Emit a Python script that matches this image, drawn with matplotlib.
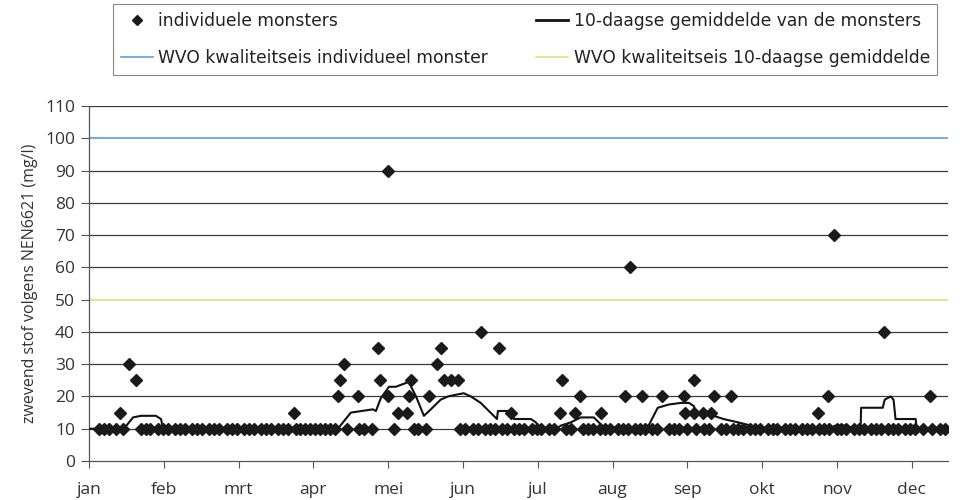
import matplotlib
matplotlib.use("Agg")
import matplotlib.pyplot as plt
from matplotlib.lines import Line2D

# ---- data ----
months = ["jan", "feb", "mrt", "apr", "mei", "jun", "jul", "aug", "sep", "okt", "nov", "dec"]
month_len = 30.42  # equal category spacing (days per month unit)

# samples at the base level (10 mg/l), day of year
base_days = [4, 6, 8, 11, 14, 21, 23, 25, 28, 30,
             32, 35, 37, 39, 42, 44, 46, 49, 51, 53, 56, 58,
             60, 63, 65, 67, 70, 72, 74, 77, 79, 81, 84, 86, 88,
             90, 92, 94, 96, 98, 100, 105, 110, 112, 115,
             124, 132, 134, 137,
             151, 153, 156, 158, 161, 163, 165, 168, 170, 173, 175, 177,
             180, 182, 184, 187, 189, 194, 196, 201, 203, 205, 208, 210,
             212, 215, 217, 219, 222, 224, 226, 229, 231, 236, 238, 240,
             243, 247, 250, 252, 257, 259, 262, 264, 266, 269, 271,
             273, 276, 278, 280, 283, 285, 287, 290, 292, 294, 297, 299,
             301, 304, 306, 308, 311, 313, 315, 318, 320, 322, 325, 327, 329,
             332, 334, 336, 339, 343, 346, 348]
base_value = 10

# samples above base level
high_days = [12.6, 16.3, 19.1, 83.3, 101.2, 102.0, 103.7, 109.3, 117.5, 118.3,
             121.5, 121.8, 125.6, 129.3, 130.1, 130.9, 138.2, 141.5, 143.1, 144.3,
             147.2, 150.0, 159.3, 166.7, 171.5, 191.5, 192.3, 197.6, 199.6, 208.1,
             217.9, 219.9, 224.8, 232.9, 241.9, 242.3, 245.9, 245.9, 249.6, 252.8,
             254.1, 261.0, 296.3, 300.4, 302.8, 323.2, 341.9]
high_vals = [15, 30, 25, 15, 20, 25, 30, 20, 35, 25,
             90, 20, 15, 15, 20, 25, 20, 30, 35, 25,
             25, 25, 40, 35, 15, 15, 25, 15, 20, 15,
             20, 60, 20, 20, 20, 15, 25, 15, 15, 15,
             20, 20, 15, 20, 70, 40, 20]

# 10-day mean
mean_days = [0, 14.2, 17.9, 21.1, 27.2, 29.3, 30.1, 101.2, 106.5, 115.4, 116.7, 118.7,
             122, 124.8, 130, 133, 136.2, 139, 143, 146, 149, 152.4, 155.3, 159.3,
             164.6, 165.9, 166.3, 172.4, 172.8, 179.7, 181.7, 183, 190, 192, 196, 200,
             205.3, 207.3, 209.3, 223.2, 227.6, 231.3, 235.8, 240.7, 244, 246, 246.7,
             254, 258.1, 263.8, 269.1, 273, 300.4, 303.7, 308.5, 310.6, 313.8, 314,
             322.8, 323.6, 326, 327.2, 328, 336.2, 336.6, 340]
mean_vals = [10, 10, 13.5, 14, 14, 13, 10, 10, 15, 16, 15.5, 19.5,
             23, 23, 24.5, 20, 14, 16, 19, 20, 20.5, 21, 20, 18,
             14, 13, 15.5, 15.5, 13, 13, 12, 10.5, 10, 11, 12, 13.5,
             13.5, 12, 10.5, 10.5, 11, 16.5, 17.5, 18, 18, 17, 15,
             14, 13, 12, 11, 10, 10, 11, 11, 10, 10, 16.5,
             16.5, 19, 20, 19, 13, 13, 10, 10]

limit_individual = 100
limit_mean = 50

# ---- plot ----
fig = plt.figure(figsize=(9.6, 5.0), dpi=100)
ax = fig.add_axes([89 / 960, 1 - 461 / 500, (948 - 89) / 960, (461 - 106) / 500])

for g in range(10, 111, 10):
    if g in (limit_individual, limit_mean):
        continue
    ax.axhline(g, color="#3a3a3a", lw=0.9, zorder=1)

ax.axhline(limit_individual, color="#5a9fd4", lw=1.2, zorder=2)
ax.axhline(limit_mean, color="#e2e27a", lw=1.2, zorder=2)

ax.plot([d / month_len for d in base_days], [base_value] * len(base_days),
        linestyle="none", marker="D", markersize=6, color="#1a1a1a", zorder=4)
ax.plot([d / month_len for d in high_days], high_vals,
        linestyle="none", marker="D", markersize=6, color="#1a1a1a", zorder=4)
ax.plot([d / month_len for d in mean_days], mean_vals, color="#111111", lw=1.5, zorder=3)

ax.set_xlim(0, (948 - 89) / 74.8)
ax.set_ylim(0, 110)
ax.set_yticks(range(0, 111, 10))
ax.set_xticks(range(12))
ax.set_xticklabels(months)

for s in ("top", "right"):
    ax.spines[s].set_visible(False)
for s in ("left", "bottom"):
    ax.spines[s].set_color("#555555")
    ax.spines[s].set_linewidth(0.9)

ax.tick_params(axis="y", length=6, width=0.8, color="#555555", labelsize=12.5,
               labelcolor="#333333", pad=4)
ax.tick_params(axis="x", length=5, width=0.8, color="#555555", labelsize=12.5,
               labelcolor="#333333", pad=10)
for lab in ax.get_xticklabels() + ax.get_yticklabels():
    lab.set_family("Open Sans")

ax.set_ylabel("zwevend stof volgens NEN6621 (mg/l)", fontsize=11.5, family="Open Sans",
              color="#333333", labelpad=5)

handles = [
    Line2D([], [], linestyle="none", marker="D", markersize=5, color="#1a1a1a"),
    Line2D([], [], color="#5a9fd4", lw=1.2),
    Line2D([], [], color="#111111", lw=2.0),
    Line2D([], [], color="#e2e27a", lw=1.2),
]
labels = ["individuele monsters", "WVO kwaliteitseis individueel monster",
          "10-daagse gemiddelde van de monsters", "WVO kwaliteitseis 10-daagse gemiddelde"]
leg = fig.legend(handles, labels, ncol=2, loc="upper left",
                 bbox_to_anchor=(113 / 960, 1 - 4 / 500),
                 frameon=True, fancybox=False, edgecolor="#888888",
                 prop={"family": "DejaVu Sans", "size": 12.3},
                 handlelength=1.9, handletextpad=0.3, labelspacing=1.15,
                 columnspacing=2.8, borderpad=0.45, borderaxespad=0, framealpha=1)
leg.get_frame().set_linewidth(0.8)
for t in leg.get_texts():
    t.set_color("#222222")

fig.savefig("out.png", dpi=100)
